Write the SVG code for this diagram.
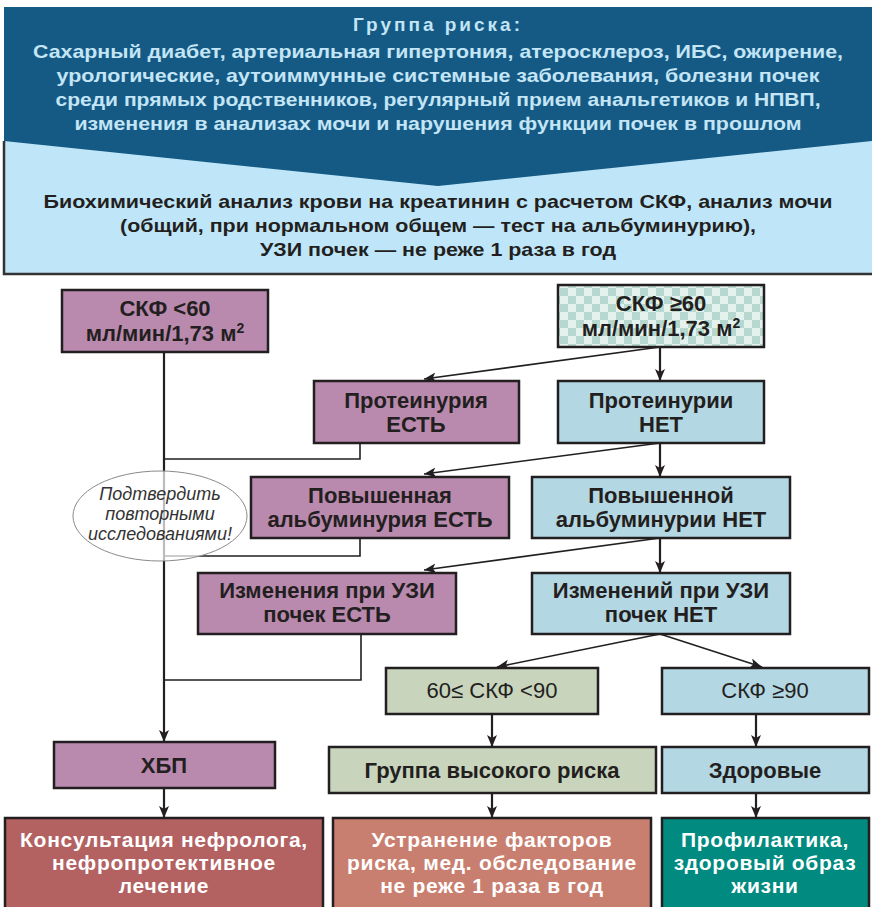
<svg xmlns="http://www.w3.org/2000/svg" width="873" height="907" viewBox="0 0 873 907">
<style>
text{font-family:"Liberation Sans",Arial,sans-serif;}
.b{font-weight:bold;font-size:22px;fill:#231F20;text-anchor:middle;}
.r{font-size:22px;fill:#231F20;text-anchor:middle;}
.w{font-weight:bold;font-size:21px;fill:#FFFFFF;text-anchor:middle;letter-spacing:0.7px;}
.hd{font-weight:bold;font-size:19px;fill:#C3E5F5;text-anchor:middle;}
.bd{font-weight:bold;font-size:19px;fill:#231F20;text-anchor:middle;}
.box{stroke:#231F20;stroke-width:2.5;}
.mauve{fill:#B98AAE;}
.lblue{fill:#B3D7E3;}
.sage{fill:#C8D4BC;}
.c{fill:none;stroke:#231F20;stroke-width:1.6;}
.ct{fill:none;stroke:#231F20;stroke-width:2.2;}
.a{marker-end:url(#arr);}
</style>
<defs>
<pattern id="chk" width="16" height="16" patternUnits="userSpaceOnUse">
<rect width="16" height="16" fill="#E4F2EE"/>
<rect width="8" height="8" fill="#B7D8CF"/>
<rect x="8" y="8" width="8" height="8" fill="#B7D8CF"/>
</pattern>
<marker id="arr" markerUnits="userSpaceOnUse" markerWidth="14" markerHeight="12" refX="12" refY="5" orient="auto">
<path d="M0,0 L12,5 L0,10 L3,5 z" fill="#231F20"/>
</marker>
</defs>

<g id="banner">
<rect x="4" y="7" width="868" height="267" fill="#BEE6F8"/>
<polygon points="4,7 872,7 872,141 438,186 4,141" fill="#155A85"/>
<path d="M4,141 V274 H872" fill="none" stroke="#333" stroke-width="2.5"/>
<text class="hd" x="438" y="31" letter-spacing="3">Группа риска:</text>
<text class="hd" x="438" y="58" textLength="810" lengthAdjust="spacingAndGlyphs">Сахарный диабет, артериальная гипертония, атеросклероз, ИБС, ожирение,</text>
<text class="hd" x="438" y="82" textLength="763" lengthAdjust="spacingAndGlyphs">урологические, аутоиммунные системные заболевания, болезни почек</text>
<text class="hd" x="438" y="106" textLength="765" lengthAdjust="spacingAndGlyphs">среди прямых родственников, регулярный прием анальгетиков и НПВП,</text>
<text class="hd" x="438" y="130" textLength="727" lengthAdjust="spacingAndGlyphs">изменения в анализах мочи и нарушения функции почек в прошлом</text>
<text class="bd" x="438" y="208" textLength="789" lengthAdjust="spacingAndGlyphs">Биохимический анализ крови на креатинин с расчетом СКФ, анализ мочи</text>
<text class="bd" x="438" y="232" textLength="636" lengthAdjust="spacingAndGlyphs">(общий, при нормальном общем — тест на альбуминурию),</text>
<text class="bd" x="438" y="256" textLength="356" lengthAdjust="spacingAndGlyphs">УЗИ почек — не реже 1 раза в год</text>
</g>

<g id="connectors">
<path class="ct a" d="M164,352 V742"/>
<path class="c" d="M360,443 V459 H164"/>
<path class="c" d="M360,538 V556 H164"/>
<path class="c" d="M361,634 V680 H164"/>
<path class="c a" d="M660,347 L424,379"/>
<path class="ct a" d="M660,347 V381"/>
<path class="c a" d="M660,443 L424,474"/>
<path class="ct a" d="M660,443 V477"/>
<path class="c a" d="M660,538 L424,570"/>
<path class="ct a" d="M660,538 V573"/>
<path class="c a" d="M660,634 L497,667"/>
<path class="c a" d="M660,634 L762,667"/>
<path class="ct a" d="M492,714 V747"/>
<path class="ct a" d="M756,714 V747"/>
<path class="ct a" d="M164,788 V818"/>
<path class="ct a" d="M492,793 V818"/>
<path class="ct a" d="M756,793 V818"/>
</g>

<g id="note">
<ellipse cx="160" cy="516" rx="87" ry="45" fill="#FFFFFF" fill-opacity="0.7" stroke="#8A8A8A" stroke-width="1"/>
<text x="160" y="500" font-size="18" font-style="italic" fill="#333" text-anchor="middle">Подтвердить</text>
<text x="160" y="520" font-size="18" font-style="italic" fill="#333" text-anchor="middle">повторными</text>
<text x="160" y="540" font-size="18" font-style="italic" fill="#333" text-anchor="middle">исследованиями!</text>
</g>

<g id="gfr-low">
<rect class="box mauve" x="62" y="290" width="206" height="62"/>
<text class="b" x="165" y="316">СКФ &lt;60</text>
<text class="b" x="165" y="341">мл/мин/1,73 м<tspan dy="-8" font-size="14">2</tspan></text>
</g>

<g id="gfr-high">
<rect class="box" x="558" y="285" width="206" height="62" fill="url(#chk)"/>
<text class="b" x="661" y="311">СКФ ≥60</text>
<text class="b" x="661" y="336">мл/мин/1,73 м<tspan dy="-8" font-size="14">2</tspan></text>
</g>

<g id="prot-yes">
<rect class="box mauve" x="314" y="381" width="205" height="62"/>
<text class="b" x="416" y="408">Протеинурия</text>
<text class="b" x="416" y="432">ЕСТЬ</text>
</g>

<g id="prot-no">
<rect class="box lblue" x="558" y="381" width="206" height="62"/>
<text class="b" x="661" y="408">Протеинурии</text>
<text class="b" x="661" y="432">НЕТ</text>
</g>

<g id="alb-yes">
<rect class="box mauve" x="251" y="477" width="258" height="61"/>
<text class="b" x="380" y="503">Повышенная</text>
<text class="b" x="380" y="527">альбуминурия ЕСТЬ</text>
</g>

<g id="alb-no">
<rect class="box lblue" x="532" y="477" width="258" height="61"/>
<text class="b" x="661" y="503">Повышенной</text>
<text class="b" x="661" y="527">альбуминурии НЕТ</text>
</g>

<g id="us-yes">
<rect class="box mauve" x="198" y="573" width="258" height="61"/>
<text class="b" x="327" y="598">Изменения при УЗИ</text>
<text class="b" x="327" y="622">почек ЕСТЬ</text>
</g>

<g id="us-no">
<rect class="box lblue" x="532" y="573" width="258" height="61"/>
<text class="b" x="661" y="598">Изменений при УЗИ</text>
<text class="b" x="661" y="622">почек НЕТ</text>
</g>

<g id="gfr-60-90">
<rect class="box sage" x="386" y="668" width="212" height="46"/>
<text class="r" x="492" y="698">60≤ СКФ &lt;90</text>
</g>

<g id="gfr-90">
<rect class="box lblue" x="662" y="668" width="207" height="46"/>
<text class="r" x="765" y="698">СКФ ≥90</text>
</g>

<g id="ckd">
<rect class="box mauve" x="54" y="742" width="221" height="46"/>
<text class="b" x="164" y="773">ХБП</text>
</g>

<g id="high-risk">
<rect class="box sage" x="329" y="747" width="327" height="46"/>
<text class="b" x="492" y="778">Группа высокого риска</text>
</g>

<g id="healthy">
<rect class="box lblue" x="662" y="747" width="207" height="46"/>
<text class="b" x="765" y="778">Здоровые</text>
</g>

<g id="nephro">
<rect class="box" x="5" y="818" width="318" height="95" fill="#B36161"/>
<text class="w" x="164" y="847">Консультация нефролога,</text>
<text class="w" x="164" y="870">нефропротективное</text>
<text class="w" x="164" y="893">лечение</text>
</g>

<g id="risk-fix">
<rect class="box" x="333" y="818" width="318" height="95" fill="#C97F6F"/>
<text class="w" x="492" y="847">Устранение факторов</text>
<text class="w" x="492" y="870">риска, мед. обследование</text>
<text class="w" x="492" y="893">не реже 1 раза в год</text>
</g>

<g id="prevent">
<rect class="box" x="662" y="818" width="207" height="95" fill="#008A80"/>
<text class="w" x="765" y="847">Профилактика,</text>
<text class="w" x="765" y="870">здоровый образ</text>
<text class="w" x="765" y="893">жизни</text>
</g>
</svg>
